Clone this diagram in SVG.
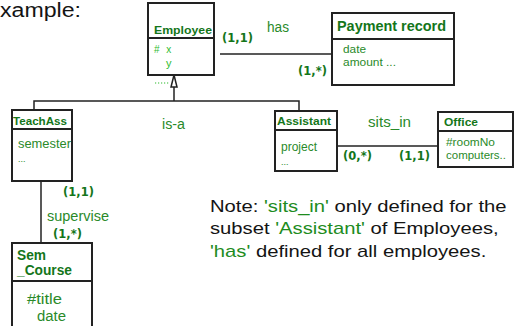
<svg xmlns="http://www.w3.org/2000/svg" width="514" height="326" viewBox="0 0 514 326">
  <style>
    .box { fill: #ffffff; stroke: #222222; stroke-width: 2; }
    .sep { stroke: #222222; stroke-width: 2; }
    .edge { stroke: #222222; stroke-width: 1.5; fill: none; }
    .title { font-family: "Liberation Sans", Arial, sans-serif; font-weight: bold; fill: #14761a; }
    .attr { font-family: "Liberation Sans", Arial, sans-serif; fill: #2a8a2a; }
    .attr2 { font-family: "Liberation Sans", Arial, sans-serif; fill: #2fbb2f; }
    .rel { font-family: "Liberation Sans", Arial, sans-serif; fill: #2a8a2a; }
    .card { font-family: "DejaVu Sans", Verdana, sans-serif; font-weight: bold; font-size: 11.5px; fill: #14761a; }
    .note { font-family: "Liberation Sans", Arial, sans-serif; font-size: 17px; fill: #141414; }
    .hl { fill: #1e8c1e; }
  </style>

  <text x="0" y="17" font-family="Liberation Sans, Arial, sans-serif" font-size="20" fill="#141414" textLength="81" lengthAdjust="spacingAndGlyphs">xample:</text>

  <!-- connectors -->
  <g id="connectors">
    <line class="edge" x1="220" y1="54" x2="332" y2="54"/>
    <line class="edge" x1="337" y1="146" x2="438" y2="146"/>
    <line class="edge" x1="41" y1="181" x2="41" y2="243"/>
    <!-- generalisation -->
    <polyline class="edge" points="34,110 34,101 299,101 299,111"/>
    <line class="edge" x1="174" y1="101" x2="174" y2="87"/>
    <polygon points="174,75 171,87 177,87" fill="#ffffff" stroke="#222222" stroke-width="1.5"/>
    <line x1="155" y1="83" x2="169" y2="83" stroke="#2fbb2f" stroke-width="1.2" stroke-dasharray="1.2,1.8"/>
  </g>

  <g id="employee">
    <rect class="box" x="148" y="3" width="66" height="72"/>
    <line class="sep" x1="148" y1="38" x2="214" y2="38"/>
    <text class="title" x="154" y="34" font-size="11" textLength="58" lengthAdjust="spacingAndGlyphs">Employee</text>
    <text class="attr2" x="154" y="53" font-size="10" word-spacing="4">
      # x</text>
    <text class="attr2" x="166" y="67" font-size="11">y</text>
  </g>

  <g id="payment-record">
    <rect class="box" x="332" y="13" width="122" height="72"/>
    <line class="sep" x1="332" y1="39" x2="454" y2="39"/>
    <text class="title" x="337" y="31" font-size="14" textLength="109" lengthAdjust="spacingAndGlyphs">Payment record</text>
    <text class="attr" x="343" y="53" font-size="10.5" textLength="23" lengthAdjust="spacingAndGlyphs">date</text>
    <text class="attr" x="343" y="66" font-size="10.5" textLength="53" lengthAdjust="spacingAndGlyphs">amount ...</text>
  </g>

  <g id="teachass">
    <rect class="box" x="12" y="110" width="60" height="71"/>
    <line class="sep" x1="12" y1="129" x2="72" y2="129"/>
    <text class="title" x="13" y="125" font-size="11.5" textLength="54" lengthAdjust="spacingAndGlyphs">TeachAss</text>
    <text class="attr" x="18" y="148" font-size="12.5" textLength="53" lengthAdjust="spacingAndGlyphs">semester</text>
    <text class="attr" x="18" y="162" font-size="9">...</text>
  </g>

  <g id="assistant">
    <rect class="box" x="275" y="111" width="62" height="60"/>
    <line class="sep" x1="275" y1="130" x2="337" y2="130"/>
    <text class="title" x="277" y="125" font-size="11.5" textLength="54" lengthAdjust="spacingAndGlyphs">Assistant</text>
    <text class="attr" x="281" y="151" font-size="12" textLength="36" lengthAdjust="spacingAndGlyphs">project</text>
    <text class="attr" x="281" y="165" font-size="9">...</text>
  </g>

  <g id="office">
    <rect class="box" x="438" y="112" width="75" height="55"/>
    <line class="sep" x1="438" y1="131" x2="513" y2="131"/>
    <text class="title" x="444" y="126" font-size="11" textLength="34" lengthAdjust="spacingAndGlyphs">Office</text>
    <text class="attr" x="446" y="146" font-size="11" textLength="49" lengthAdjust="spacingAndGlyphs">#roomNo</text>
    <text class="attr" x="446" y="159" font-size="11" textLength="60" lengthAdjust="spacingAndGlyphs">computers..</text>
  </g>

  <g id="sem-course">
    <rect class="box" x="12" y="243" width="80" height="90"/>
    <line class="sep" x1="12" y1="281" x2="91" y2="281"/>
    <text class="title" x="17" y="260" font-size="14" textLength="29" lengthAdjust="spacingAndGlyphs">Sem</text>
    <text class="title" x="17" y="275" font-size="14" textLength="55" lengthAdjust="spacingAndGlyphs">_Course</text>
    <text class="attr" x="27" y="304" font-size="14" textLength="35" lengthAdjust="spacingAndGlyphs">#title</text>
    <text class="attr" x="37" y="321" font-size="14" textLength="29" lengthAdjust="spacingAndGlyphs">date</text>
  </g>

  <!-- relationship names -->
  <g id="labels">
    <text class="rel" x="267" y="32" font-size="14" textLength="22" lengthAdjust="spacingAndGlyphs">has</text>
    <text class="rel" x="162" y="129" font-size="14" textLength="23" lengthAdjust="spacingAndGlyphs">is-a</text>
    <text class="rel" x="368" y="127" font-size="15" textLength="43" lengthAdjust="spacingAndGlyphs">sits_in</text>
    <text class="rel" x="47" y="221" font-size="14" textLength="62" lengthAdjust="spacingAndGlyphs">supervise</text>
  </g>

  <!-- cardinalities -->
  <g id="cardinalities">
    <text class="card" x="222" y="42">(1,1)</text>
    <text class="card" x="298" y="75">(1,*)</text>
    <text class="card" x="343" y="160">(0,*)</text>
    <text class="card" x="399" y="160">(1,1)</text>
    <text class="card" x="63" y="196">(1,1)</text>
    <text class="card" x="53" y="238">(1,*)</text>
  </g>

  <!-- remark -->
  <g id="note">
    <text class="note" transform="matrix(1.19 0 0 1 210 212)">Note: <tspan class="hl">'sits_in'</tspan> only defined for the</text>
    <text class="note" transform="matrix(1.19 0 0 1 210 234)">subset <tspan class="hl">'Assistant'</tspan> of Employees,</text>
    <text class="note" transform="matrix(1.19 0 0 1 210 257)"><tspan class="hl">'has'</tspan> defined for all employees.</text>
  </g>
</svg>
